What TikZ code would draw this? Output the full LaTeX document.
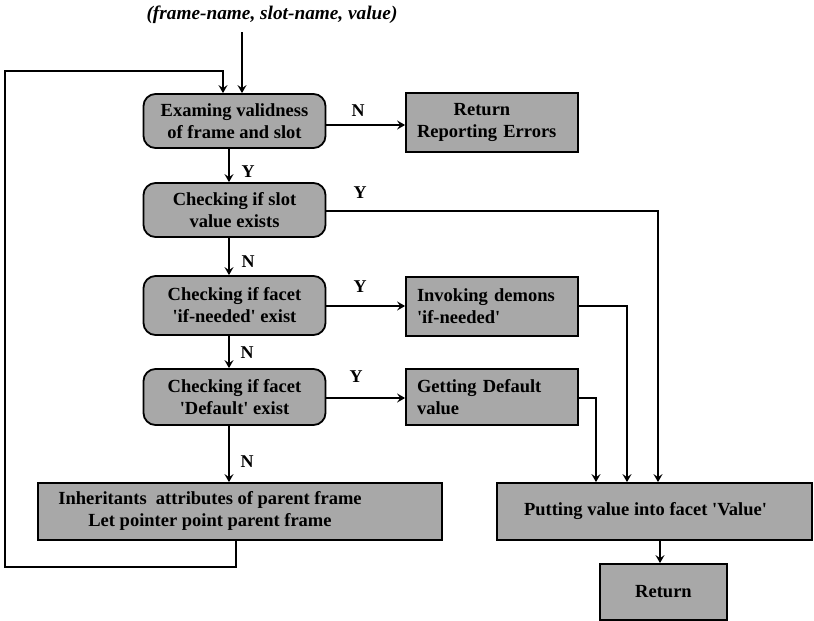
\documentclass[tikz,border=0pt]{standalone}
\usepackage{fontspec}
\setmainfont{Liberation Serif}
\usetikzlibrary{arrows.meta}
\definecolor{boxgray}{gray}{0.66}
\newcommand{\sq}{\textquotesingle}
\begin{document}
\begin{tikzpicture}[x=1pt,y=-1pt,
  box/.style={draw, line width=1.8pt, fill=boxgray, font=\bfseries\fontsize{18.5}{22}\selectfont, inner sep=0pt, align=center},
  rbox/.style={box, rounded corners=12pt, minimum width=182pt},
  conn/.style={line width=1.4pt},
  arr/.style={conn, -{Stealth[length=8pt,width=9pt,inset=3pt]}},
  lab/.style={font=\bfseries\fontsize{18}{18}\selectfont, inner sep=0pt}]
\useasboundingbox (0,0) rectangle (814,621);

% title
\node[font=\bfseries\itshape\fontsize{19.3}{19.3}\selectfont, inner sep=0pt] (t) at (272,15) {(frame-name, slot-name, value)};

% boxes
\node[rbox, minimum height=54pt] (b1) at (234.5,121) {Examing validness\\of frame and slot};
\node[box, minimum width=172pt, minimum height=59pt, text width=150pt, align=left] (b2) at (492,122.5) {\makebox[130pt]{Return}\\Reporting Errors};
\node[rbox, minimum height=54pt] (b3) at (234.5,210) {Checking if slot\\value exists};
\node[rbox, minimum height=59pt] (b4) at (234.5,305.5) {Checking if facet\\\sq if-needed\sq{} exist};
\node[box, minimum width=172pt, minimum height=59pt, text width=150pt, align=left] (b5) at (492,306.5) {Invoking demons\\\sq if-needed\sq};
\node[rbox, minimum height=56pt] (b6) at (234.5,397) {Checking if facet\\\sq Default\sq{} exist};
\node[box, minimum width=172pt, minimum height=56pt, text width=150pt, align=left] (b7) at (492,397) {Getting Default\\value};
\node[box, minimum width=404pt, minimum height=57pt] (b8) at (240,511.5) {\begin{tabular}{@{}c@{}}Inheritants\ \ attributes of parent frame\\Let pointer point parent frame\end{tabular}\hspace{60pt}};
\node[box, minimum width=315pt, minimum height=57pt] (b9) at (654.5,511.5) {Putting value into facet \sq Value\sq\hspace{18pt}};
\node[box, minimum width=127pt, minimum height=56pt] (b10) at (663.5,592) {Return};

% helper coordinates
\coordinate (ax) at (229,0);
\coordinate (tin) at (242,32);
\coordinate (lp) at (223,71);
\coordinate (lc1) at (5,71);
\coordinate (lc2) at (5,567);
\coordinate (lc3) at (236,567);
\coordinate (y1) at (0,125);
\coordinate (y3) at (658,211);
\coordinate (y4) at (627,306);
\coordinate (y6) at (596,398);
\coordinate (rx) at (660,0);

% connectors
\draw[arr] (tin) -- (b1.north -| tin);
\draw[arr] (b8.south -| lc3) -- (lc3) -- (lc2) -- (lc1) -- (lp) -- (b1.north -| lp);
\draw[arr] (b1.east |- y1) -- (b2.west |- y1);
\draw[arr] (b1.south -| ax) -- (b3.north -| ax);
\draw[arr] (b3.east |- y3) -- (y3) -- (b9.north -| y3);
\draw[arr] (b3.south -| ax) -- (b4.north -| ax);
\draw[arr] (b4.east |- y4) -- (b5.west |- y4);
\draw[arr] (b5.east |- y4) -- (y4) -- (b9.north -| y4);
\draw[arr] (b4.south -| ax) -- (b6.north -| ax);
\draw[arr] (b6.east |- y6) -- (b7.west |- y6);
\draw[arr] (b7.east |- y6) -- (y6) -- (b9.north -| y6);
\draw[arr] (b6.south -| ax) -- (b8.north -| ax);
\draw[arr] (b9.south -| rx) -- (b10.north -| rx);

% labels
\node[lab] (l1) at (358,111) {N};
\node[lab] (l2) at (248,172) {Y};
\node[lab] (l3) at (360,193) {Y};
\node[lab] (l4) at (248,262) {N};
\node[lab] (l5) at (360,287) {Y};
\node[lab] (l6) at (247,353) {N};
\node[lab] (l7) at (356,377) {Y};
\node[lab] (l8) at (247,462) {N};
\end{tikzpicture}
\end{document}
